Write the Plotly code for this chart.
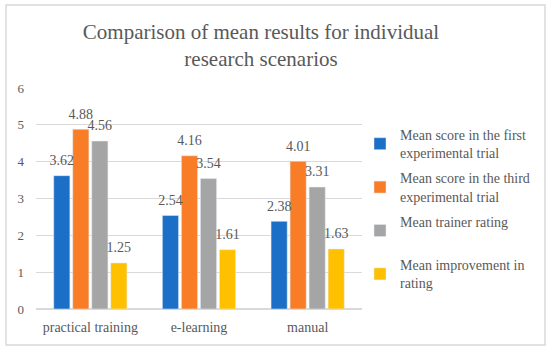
import plotly.graph_objects as go

categories = ["practical training", "e-learning", "manual"]
series_names = [
    "Mean score in the first<br>experimental trial",
    "Mean score in the third<br>experimental trial",
    "Mean trainer rating<br> ",
    "Mean improvement in<br>rating",
]
first_trial = [3.62, 2.54, 2.38]
third_trial = [4.88, 4.16, 4.01]
trainer_rating = [4.56, 3.54, 3.31]
improvement = [1.25, 1.61, 1.63]
y_ticks = [0, 1, 2, 3, 4, 5, 6]

colors = ["#1c6fc6", "#f97d27", "#a5a5a5", "#ffc000"]
values = [first_trial, third_trial, trainer_rating, improvement]

FONT = "Liberation Serif"
GRAY = "#595959"

fig = go.Figure()
for i, (name, vals, col) in enumerate(zip(series_names, values, colors)):
    fig.add_trace(go.Bar(
        x=categories, y=vals, name=name, marker_color=col,
        offsetgroup=f"s{i}", legendgroup=f"g{i}", hoverinfo="x+y",
    ))
for i, vals in enumerate(values):
    fig.add_trace(go.Scatter(
        x=categories, y=vals, mode="markers+text",
        marker=dict(size=10, opacity=0),
        text=[f"{v:.2f}" for v in vals], textposition="top center",
        textfont=dict(family=FONT, size=14, color=GRAY),
        offsetgroup=f"s{i}", showlegend=False, hoverinfo="skip",
        cliponaxis=False,
    ))

W, H = 550, 353
L, R, T, B = 36, 188, 88, 44
pw, ph = W - L - R, H - T - B

fig.update_layout(
    width=W, height=H,
    margin=dict(l=L, r=R, t=T, b=B),
    paper_bgcolor="white", plot_bgcolor="white",
    barmode="group", bargap=0.3, bargroupgap=0.15,
    scattermode="group", scattergap=0.3,
    title=dict(
        text="Comparison of mean results for individual<br>research scenarios",
        x=261 / W, xanchor="center", y=1 - 39 / H, yanchor="top",
        font=dict(family=FONT, size=21, color=GRAY),
    ),
    font=dict(family=FONT, color=GRAY, size=13),
    legend=dict(
        x=(360 - L) / pw, xanchor="left", y=1 - (119 - T) / ph, yanchor="top",
        font=dict(family=FONT, size=14, color=GRAY),
        itemwidth=30, tracegroupgap=4, bgcolor="rgba(0,0,0,0)",
    ),
    xaxis=dict(showgrid=False, showline=False, ticks="", ticklabelstandoff=8,
               tickfont=dict(family=FONT, size=14, color=GRAY)),
    yaxis=dict(range=[0, 6], tickvals=y_ticks, showgrid=True, gridcolor="#d9d9d9",
               zeroline=True, zerolinecolor="#d9d9d9", showline=False, ticks="",
               ticklabelstandoff=11,
               tickfont=dict(family=FONT, size=13, color=GRAY)),
    shapes=[dict(
        type="rect", xref="paper", yref="paper",
        x0=(6 - L) / pw, x1=(545 - L) / pw,
        y0=(H - B - 345) / ph, y1=(H - B - 5) / ph,
        line=dict(color="#d9d9d9", width=1.5), fillcolor="rgba(0,0,0,0)", layer="below",
    )],
)

fig.write_html("out.html", config={"displayModeBar": False},
               post_script="document.body.style.margin='0';document.body.style.overflow='hidden';")
